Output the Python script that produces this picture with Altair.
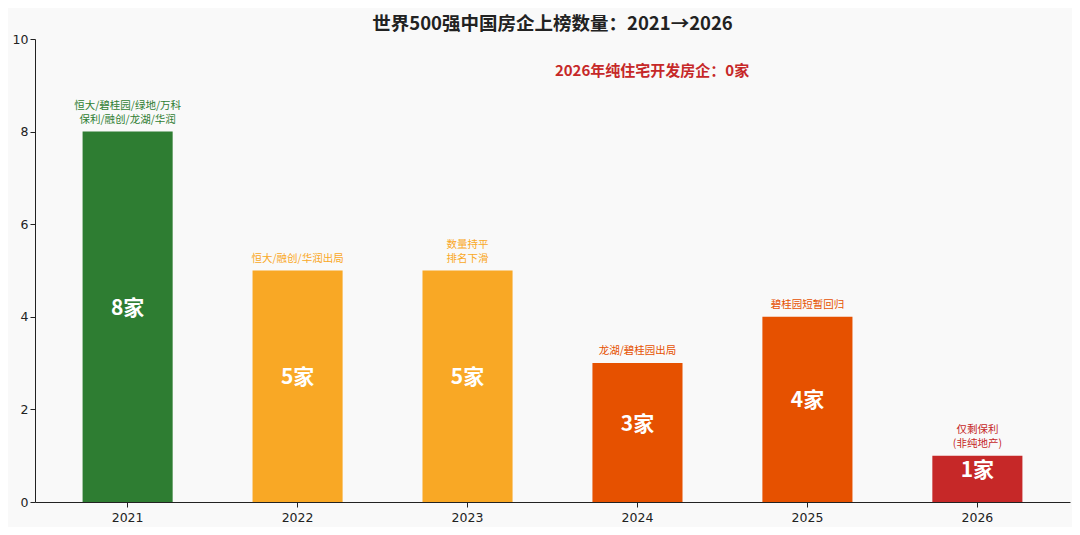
import altair as alt
import pandas as pd

years = ["2021", "2022", "2023", "2024", "2025", "2026"]
counts = [8, 5, 5, 3, 4, 1]
bar_colors = ["#2E7D32", "#F9A825", "#F9A825", "#E65100", "#E65100", "#C62828"]
notes = [
    "恒大/碧桂园/绿地/万科\n保利/融创/龙湖/华润",
    "恒大/融创/华润出局",
    "数量持平\n排名下滑",
    "龙湖/碧桂园出局",
    "碧桂园短暂回归",
    "仅剩保利\n(非纯地产)",
]
inner_labels = [f"{c}家" for c in counts]

df = pd.DataFrame({
    "year": years,
    "count": counts,
    "color": bar_colors,
    "inner": inner_labels,
})
# split the notes: last line sits just above the bar, the first one above it
df["note_low"] = [n.split("\n")[-1] for n in notes]
df["note_high"] = [n.split("\n")[0] if "\n" in n else "" for n in notes]
df["mid"] = df["count"] / 2

FONT = "Noto Sans CJK SC"

x = alt.X("year:N", sort=years, title=None,
          scale=alt.Scale(paddingInner=0.47, paddingOuter=0.28),
          axis=alt.Axis(labelAngle=0, labelFontSize=12.5, labelColor="#222222",
                        domainColor="#222222", tickColor="#222222",
                        labelFont="DejaVu Sans", labelPadding=4))

base = alt.Chart(df)

bars = base.mark_bar().encode(
    x=x,
    y=alt.Y("count:Q", title=None,
            scale=alt.Scale(domain=[0, 10], nice=False),
            axis=alt.Axis(values=[0, 2, 4, 6, 8, 10], grid=False, labelFontSize=12.5,
                          labelColor="#222222", domainColor="#222222",
                          tickColor="#222222", labelFont="DejaVu Sans")),
    color=alt.Color("color:N", scale=None),
)

note_low = base.mark_text(
    baseline="bottom", dy=-7, fontSize=10.5, font=FONT
).encode(
    x=alt.X("year:N", sort=years),
    y="count:Q",
    text="note_low:N",
    color=alt.Color("color:N", scale=None),
)

note_high = base.mark_text(
    baseline="bottom", dy=-21, fontSize=10.5, font=FONT
).encode(
    x=alt.X("year:N", sort=years),
    y="count:Q",
    text="note_high:N",
    color=alt.Color("color:N", scale=None),
)

inner_text = base.mark_text(
    baseline="middle", dy=-8, fontSize=21, fontWeight="bold", font=FONT, color="white"
).encode(
    x=alt.X("year:N", sort=years),
    y="mid:Q",
    text="inner:N",
)

headline = alt.Chart(pd.DataFrame({"t": ["2026年纯住宅开发房企：0家"]})).mark_text(
    fontSize=15, fontWeight="bold", font=FONT, color="#C62828", baseline="middle"
).encode(
    x=alt.value(617),
    y=alt.value(32),
    text="t:N",
)

chart = alt.layer(bars, note_low, note_high, inner_text, headline).properties(
    width=1035,
    height=463,
    title=alt.TitleParams(
        "世界500强中国房企上榜数量：2021→2026",
        fontSize=18.5, font=FONT, fontWeight="bold", color="#222222", offset=0,
    ),
    autosize=alt.AutoSizeParams(type="none"),
    padding={"left": 27, "top": 31, "right": 2, "bottom": 25},
    background="#F9F9F9",
).configure_view(stroke=None)

chart.save("out.html", embed_options={"renderer": "svg", "actions": False})
